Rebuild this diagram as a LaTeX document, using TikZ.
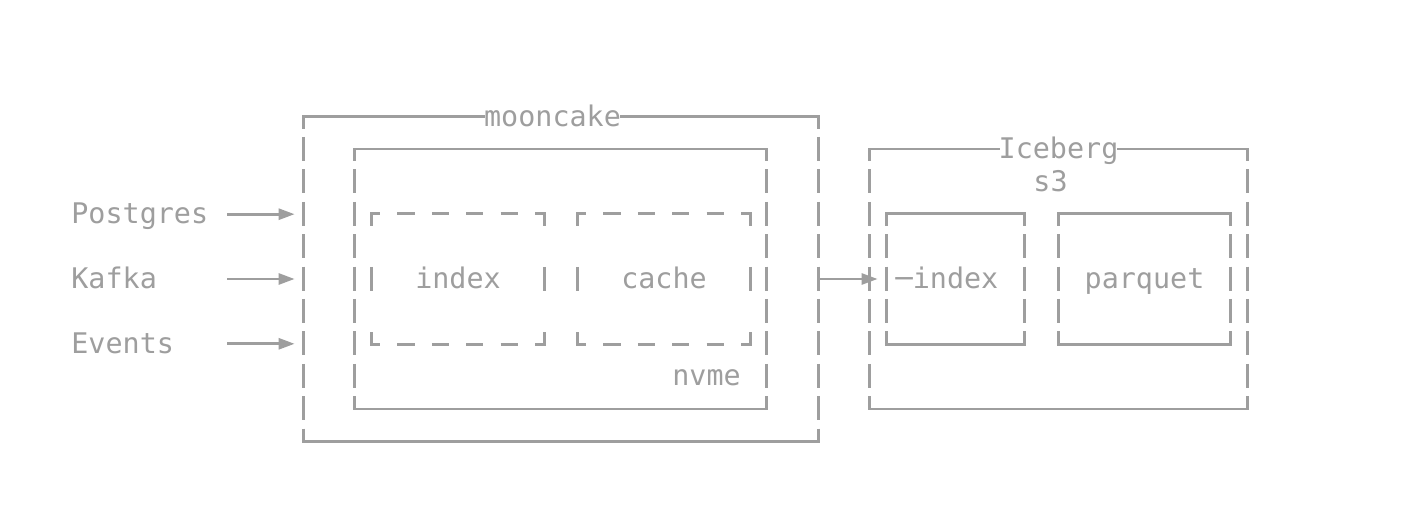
\documentclass[tikz,border=0pt]{standalone}
\usepackage{fontspec}
\setmonofont{DejaVu Sans Mono}
\usetikzlibrary{fit,arrows.meta}
\definecolor{ink}{RGB}{158,158,158}
\newcommand\asciisides[1]{%
  \draw[vline] (#1.north west) -- (#1.south west);
  \draw[vline] (#1.north east) -- (#1.south east);
  \draw[hline] (#1.south west) -- (#1.south east);}
\newcommand\asciibox[1]{\asciisides{#1}\draw[hline] (#1.north west) -- (#1.north east);}
\newcommand\dashedasciibox[1]{%
  \draw[boxline] ([yshift=-6pt]#1.north west) -- (#1.north west) -- ([xshift=4.3pt]#1.north west);
  \draw[dline] ([xshift=4.3pt]#1.north west) -- ([xshift=-4.3pt]#1.north east);
  \draw[boxline] ([xshift=-4.3pt]#1.north east) -- (#1.north east) -- ([yshift=-6pt]#1.north east);
  \draw[boxline] ([yshift=6pt]#1.south west) -- (#1.south west) -- ([xshift=4.3pt]#1.south west);
  \draw[dline] ([xshift=4.3pt]#1.south west) -- ([xshift=-4.3pt]#1.south east);
  \draw[boxline] ([xshift=-4.3pt]#1.south east) -- (#1.south east) -- ([yshift=6pt]#1.south east);
  \draw[boxline] ([yshift=6pt]#1.west) -- ([yshift=-6pt]#1.west);
  \draw[boxline] ([yshift=6pt]#1.east) -- ([yshift=-6pt]#1.east);}
\begin{document}
\begin{tikzpicture}[x=0.5pt,y=-0.5pt,
  boxline/.style={draw=ink, line width=1.35pt},
  hline/.style={boxline, line cap=rect},
  vline/.style={boxline, dash pattern=on 12pt off 4.2pt, dash phase=6pt},
  dline/.style={boxline, dash pattern=on 8.6pt off 8.6pt, dash phase=8.6pt},
  txt/.style={text=ink, font=\ttfamily\fontsize{14.2pt}{17pt}\selectfont, inner sep=0pt},
  area/.style={inner sep=0pt, draw=none},
  arr/.style={draw=ink, line width=1.35pt, -{Triangle[length=8pt,width=5.5pt]}, shorten >=4.5pt}]
\fill[white] (0,0) rectangle (1422,528);
\useasboundingbox (0,0) rectangle (1422,528);

% box areas
\node[area, fit={(304,117) (818,441)}] (moon) {};
\node[area, fit={(355,149.4) (766,408.6)}] (nvmebox) {};
\node[area, fit={(372,214.2) (544,343.8)}] (idx) {};
\node[area, fit={(578,214.2) (750,343.8)}] (cache) {};
\node[area, fit={(870,149.4) (1247,408.6)}] (ice) {};
\node[area, fit={(887,214.2) (1024,343.8)}] (sidx) {};
\node[area, fit={(1059,214.2) (1230,343.8)}] (parq) {};

% labels
\node[txt, anchor=base west] (pg) at (71,223.7) {Postgres};
\node[txt, anchor=base west] (kf) at (71,288.5) {Kafka};
\node[txt, anchor=base west] (ev) at (71,353.3) {Events};
\node[txt, anchor=base] (moonlbl) at (552.5,126.5) {mooncake};
\node[txt, anchor=base] (icelbl) at (1058.5,158.9) {Iceberg};
\node[txt, anchor=base] (s3lbl) at (1050.5,191.3) {s3};
\node[txt, anchor=base] (idxlbl) at (458,288.5) {index};
\node[txt, anchor=base] (cachelbl) at (664,288.5) {cache};
\node[txt, anchor=base] (nvmelbl) at (706.5,385.7) {nvme};
\node[txt, anchor=base] (sidxlbl) at (947,288.5) {─index};
\node[txt, anchor=base] (parqlbl) at (1144.5,288.5) {parquet};

% mooncake outer box
\asciisides{moon}
\draw[hline] (moon.north west) -- (moonlbl.west |- moon.north);
\draw[hline] (moonlbl.east |- moon.north) -- (moon.north east);
\asciibox{nvmebox}
\dashedasciibox{idx}
\dashedasciibox{cache}

% iceberg box
\asciisides{ice}
\draw[hline] (ice.north west) -- (icelbl.west |- ice.north);
\draw[hline] (icelbl.east |- ice.north) -- (ice.north east);
\asciibox{sidx}
\asciibox{parq}

% input arrows
\coordinate (pgout) at (227,214.2);
\coordinate (kfout) at (227,279);
\coordinate (evout) at (227,343.8);
\draw[arr] (pgout) -- (pgout -| moon.west);
\draw[arr] (kfout) -- (kfout -| moon.west);
\draw[arr] (evout) -- (evout -| moon.west);

% mooncake -> iceberg
\draw[arr] (moon.east |- sidx.west) -- (sidx.west);
\end{tikzpicture}
\end{document}
